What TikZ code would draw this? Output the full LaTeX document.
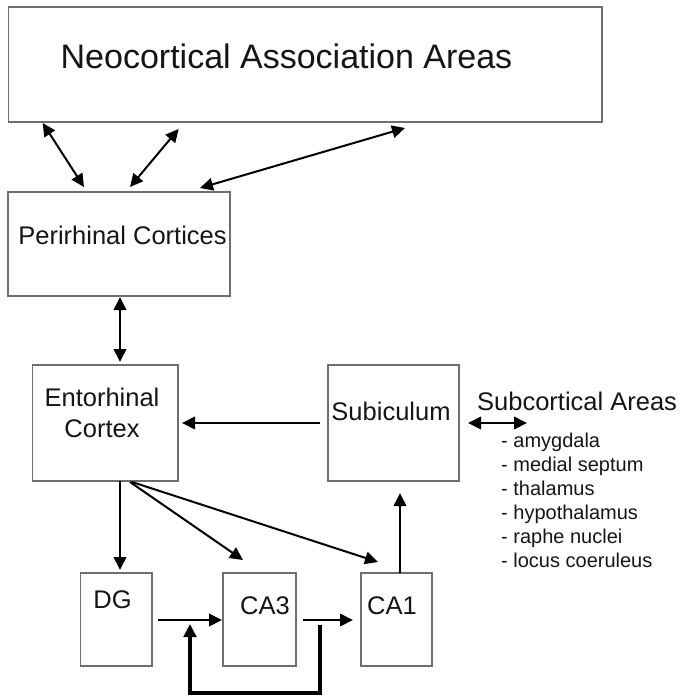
\documentclass[tikz,border=0pt]{standalone}
\usepackage{fontspec}
\setmainfont{Liberation Sans}
\usetikzlibrary{arrows.meta}
\definecolor{boxgray}{HTML}{6E6E6E}
\definecolor{inkc}{HTML}{151515}
\begin{document}
\begin{tikzpicture}[x=1pt,y=-1pt,
  box/.style={draw=boxgray, line width=1.4pt, fill=white, inner sep=0pt},
  lbl/.style={inner sep=0pt, anchor=base, text=inkc, font=\fontsize{25.5}{30}\selectfont},
  big/.style={inner sep=0pt, anchor=base, text=inkc, font=\fontsize{34}{40}\selectfont},
  item/.style={inner sep=0pt, anchor=base west, text=inkc, font=\fontsize{20}{24}\selectfont},
  conn/.style={draw=black, line width=2pt, -{Triangle[length=13pt,width=12.5pt]}},
  biconn/.style={draw=black, line width=2pt, {Triangle[length=13pt,width=12.5pt]}-{Triangle[length=13pt,width=12.5pt]}},
  loopconn/.style={draw=black, line width=3.2pt, -{Triangle[length=13pt,width=12.5pt]}}
]
\useasboundingbox (0,0) rectangle (683,696);
% boxes
\node[box, minimum width=593.3pt, minimum height=115pt] (neo) at (305.35,64.5) {};
\node[box, minimum width=222pt, minimum height=104pt] (peri) at (119,244) {};
\node[box, minimum width=145.3pt, minimum height=116pt] (ento) at (105.35,423) {};
\node[box, minimum width=131pt, minimum height=116pt] (subi) at (393.5,423) {};
\node[box, minimum width=71.3pt, minimum height=93pt] (dg) at (116.35,619.5) {};
\node[box, minimum width=73pt, minimum height=93pt] (cathree) at (259.5,619.5) {};
\node[box, minimum width=71pt, minimum height=93pt] (caone) at (396.5,619.5) {};
% texts
\node[big] (neot) at (286.5,68) {Neocortical Association Areas};
\node[lbl] (perit) at (122.5,244) {Perirhinal Cortices};
\node[lbl] (entot) at (102,406) {Entorhinal};
\node[lbl] (entotb) at (102,437) {Cortex};
\node[lbl] (subit) at (391,420) {Subiculum};
\node[lbl, anchor=base west] (subc) at (477,410) {Subcortical Areas};
\node[lbl] (dgt) at (112.5,608) {DG};
\node[lbl] (ca3t) at (265,614) {CA3};
\node[lbl] (ca1t) at (392,614) {CA1};
\node[item] (i1) at (501,447) {- amygdala};
\node[item] (i2) at (501,471.5) {- medial septum};
\node[item] (i3) at (501,495.5) {- thalamus};
\node[item] (i4) at (501,519.5) {- hypothalamus};
\node[item] (i5) at (501,543.5) {- raphe nuclei};
\node[item] (i6) at (501,567.5) {- locus coeruleus};
% connector end points
\coordinate (na) at (42.7,123); \coordinate (pa) at (84,187);
\coordinate (nb) at (178.6,129); \coordinate (pb) at (130,187);
\coordinate (nc) at (405,128); \coordinate (pc) at (200,188);
\coordinate (pd) at (120,297); \coordinate (ed) at (120,362);
\coordinate (se) at (320,423); \coordinate (es) at (182,423);
\coordinate (sl) at (468,423); \coordinate (sr) at (527,423);
\coordinate (eg) at (120,481); \coordinate (ge) at (120,570);
\coordinate (e3) at (130,482); \coordinate (t3) at (243,560);
\coordinate (e1) at (132,482); \coordinate (t1) at (378,562);
\coordinate (c1s) at (400,573); \coordinate (sc1) at (400,493);
\coordinate (g3) at (158,620); \coordinate (t3b) at (222,620);
\coordinate (c31) at (303,620); \coordinate (t1b) at (353,620);
\coordinate (la) at (320,625); \coordinate (lb) at (320,693);
\coordinate (lc) at (190,693); \coordinate (ld) at (190,624);
% connectors
\draw[biconn] (na) -- (pa);
\draw[biconn] (nb) -- (pb);
\draw[biconn] (nc) -- (pc);
\draw[biconn] (pd) -- (ed);
\draw[conn] (se) -- (es);
\draw[biconn] (sl) -- (sr);
\draw[conn] (eg) -- (ge);
\draw[conn] (e3) -- (t3);
\draw[conn] (e1) -- (t1);
\draw[conn] (c1s) -- (sc1);
\draw[conn] (g3) -- (t3b);
\draw[conn] (c31) -- (t1b);
\draw[loopconn] (la) -- (lb) -- (lc) -- (ld);
\end{tikzpicture}
\end{document}
